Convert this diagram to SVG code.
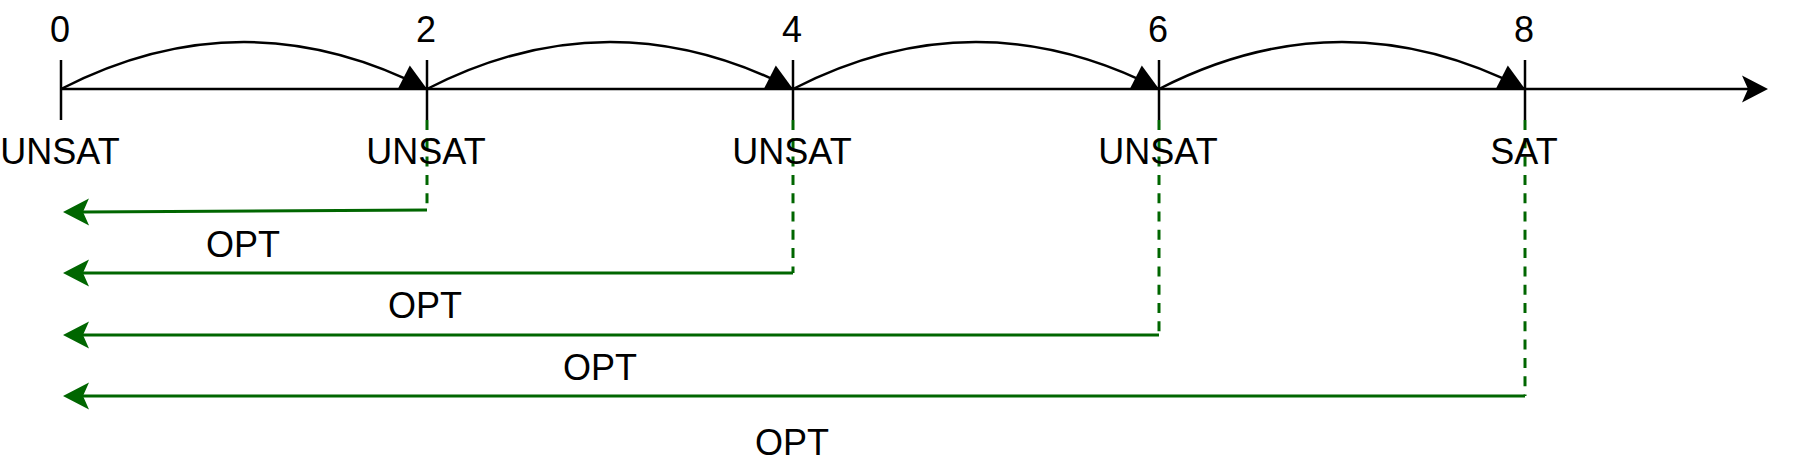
<svg xmlns="http://www.w3.org/2000/svg" width="1794" height="470" viewBox="0 0 1794 470">
<style>
text{font-family:"Liberation Sans",Arial,Helvetica,sans-serif;font-size:36px;fill:#000;text-anchor:middle}
.blk{stroke:#000;stroke-width:2.5;fill:none}
.jump{stroke:#000;stroke-width:2.5;fill:none;marker-end:url(#block)}
.opt{stroke:#006600;stroke-width:3;fill:none;marker-end:url(#garrow)}
.dash{stroke:#006600;stroke-width:3;fill:none;stroke-dasharray:10 8.3}
</style>
<defs>
<marker id="block" markerUnits="userSpaceOnUse" viewBox="-28 -14 30 28" refX="0" refY="0" markerWidth="30" markerHeight="28" orient="auto" overflow="visible">
<path d="M0,0 L-26,-13 L-26,13 Z" fill="#000"/>
</marker>
<marker id="karrow" markerUnits="userSpaceOnUse" viewBox="-8 -15 30 30" refX="0" refY="0" markerWidth="30" markerHeight="30" orient="auto" overflow="visible">
<path d="M20,0 L-6,-13.5 L0,0 L-6,13.5 Z" fill="#000"/>
</marker>
<marker id="garrow" markerUnits="userSpaceOnUse" viewBox="-8 -15 30 30" refX="0" refY="0" markerWidth="30" markerHeight="30" orient="auto" overflow="visible">
<path d="M20,0 L-6,-13.5 L0,0 L-6,13.5 Z" fill="#006600"/>
</marker>
</defs>
<rect width="1794" height="470" fill="#fff"/>
<g id="connectors">
<line class="blk" x1="61" y1="89" x2="1748" y2="89" marker-end="url(#karrow)"/>
<path class="jump" d="M61,89 Q244,-5 427,89"/>
<path class="jump" d="M427,89 Q610,-5 793,89"/>
<path class="jump" d="M793,89 Q976,-5 1159,89"/>
<path class="jump" d="M1159,89 Q1342,-5 1525,89"/>
<line class="dash" x1="427" y1="120" x2="427" y2="210"/>
<line class="dash" x1="793" y1="120" x2="793" y2="273"/>
<line class="dash" x1="1159" y1="120" x2="1159" y2="335"/>
<line class="dash" x1="1525" y1="120" x2="1525" y2="396"/>
<path class="opt" d="M427,210 L83,212"/>
<path class="opt" d="M793,273 L83,273"/>
<path class="opt" d="M1159,335 L83,335"/>
<path class="opt" d="M1525,396 L83,396"/>
<text x="243" y="257">OPT</text>
<text x="425" y="318">OPT</text>
<text x="600" y="380">OPT</text>
<text x="792" y="455">OPT</text>
</g>
<g id="tick0">
<line class="blk" x1="61" y1="60" x2="61" y2="120"/>
<text x="60" y="42">0</text>
<text x="60" y="164">UNSAT</text>
</g>
<g id="tick2">
<line class="blk" x1="427" y1="60" x2="427" y2="120"/>
<text x="426" y="42">2</text>
<text x="426" y="164">UNSAT</text>
</g>
<g id="tick4">
<line class="blk" x1="793" y1="60" x2="793" y2="120"/>
<text x="792" y="42">4</text>
<text x="792" y="164">UNSAT</text>
</g>
<g id="tick6">
<line class="blk" x1="1159" y1="60" x2="1159" y2="120"/>
<text x="1158" y="42">6</text>
<text x="1158" y="164">UNSAT</text>
</g>
<g id="tick8">
<line class="blk" x1="1525" y1="60" x2="1525" y2="120"/>
<text x="1524" y="42">8</text>
<text x="1524" y="164">SAT</text>
</g>
</svg>
